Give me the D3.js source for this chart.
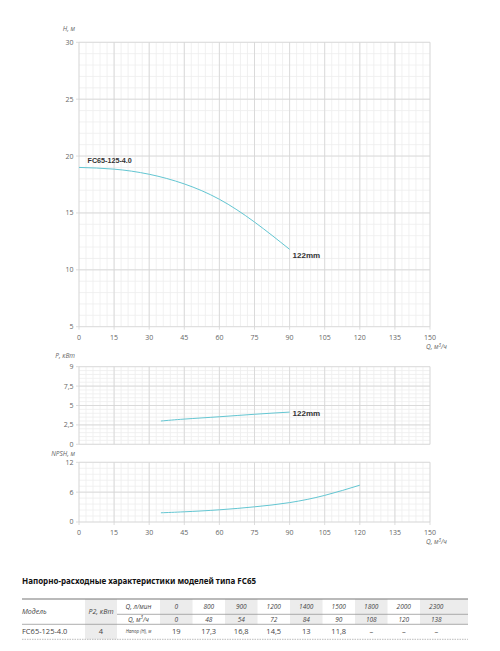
<!DOCTYPE html>
<html>
<head>
<meta charset="utf-8">
<script src="https://cdn.jsdelivr.net/npm/d3@7"></script>
<style>
  body { margin: 0; background: #fff; }
  svg { display: block; font-family: "Open Sans", "Noto Sans", sans-serif; }
</style>
</head>
<body>
<svg id="chart"></svg>
<script>
const width = 500, height = 651;

// --- data ---
const xTicks = [0, 15, 30, 45, 60, 75, 90, 105, 120, 135, 150];

// H(Q) curve, 122mm
const headQ = [0, 15, 30, 45, 60, 75, 90];
const headH = [19, 18.85, 18.4, 17.55, 16.2, 14.2, 11.8];
const headTicks = [5, 10, 15, 20, 25, 30];

// P(Q) curve
const powerQ = [35, 45, 60, 75, 90];
const powerP = [3.0, 3.25, 3.55, 3.87, 4.15];
const powerTicks = [0, 2.5, 5, 7.5, 10];
const powerTickLabels = ["0", "2,5", "5", "7,5", "9"];

// NPSH(Q) curve
const npshQ = [35, 45, 60, 75, 90, 105, 120];
const npshV = [1.85, 2.05, 2.45, 3.05, 3.9, 5.35, 7.4];
const npshTicks = [0, 6, 12];

// table
const tableFlowLmin = ["0", "800", "900", "1200", "1400", "1500", "1800", "2000", "2300"];
const tableFlowM3h = ["0", "48", "54", "72", "84", "90", "108", "120", "138"];
const tableHead = ["19", "17,3", "16,8", "14,5", "13", "11,8", "–", "–", "–"];
const tableModel = "FC65-125-4.0";
const tablePower = "4";

const curveColor = "#63c6d2";
const textColor = "#666";

const svg = d3.select("#chart").attr("width", width).attr("height", height);

const x = d3.scaleLinear().domain([0, 150]).range([79, 430]);

function fmt(v) { return String(v).replace(".", ","); }

// draws grid, ticks and tick labels for one panel
function drawPanel(y, ticks, minorStep, tickLabels, showX) {
  const g = svg.append("g");
  const [y0, y1] = y.range();
  const [d0, d1] = y.domain();

  // minor grid
  g.selectAll(".mx").data(d3.range(0, 150.01, 3)).join("line")
    .attr("x1", d => x(d)).attr("x2", d => x(d))
    .attr("y1", y0).attr("y2", y1)
    .attr("stroke", "#ededed").attr("stroke-width", 0.8);
  g.selectAll(".my").data(d3.range(d0, d1 + 0.001, minorStep)).join("line")
    .attr("x1", x(0)).attr("x2", x(150))
    .attr("y1", d => y(d)).attr("y2", d => y(d))
    .attr("stroke", "#ededed").attr("stroke-width", 0.8);

  // major grid
  g.selectAll(".gx").data(xTicks).join("line")
    .attr("x1", d => x(d)).attr("x2", d => x(d))
    .attr("y1", y0).attr("y2", y1)
    .attr("stroke", "#d4d4d4").attr("stroke-width", 0.8);
  g.selectAll(".gy").data(ticks).join("line")
    .attr("x1", x(0) - 3).attr("x2", x(150))
    .attr("y1", d => y(d)).attr("y2", d => y(d))
    .attr("stroke", "#d4d4d4").attr("stroke-width", 0.8);

  g.selectAll(".ty").data(ticks).join("text")
    .attr("x", 73.5).attr("y", d => y(d))
    .attr("dy", "0.35em")
    .attr("text-anchor", "end")
    .attr("font-size", 7).attr("fill", textColor)
    .text((d, i) => tickLabels ? tickLabels[i] : fmt(d));

  if (showX) {
    g.selectAll(".tickx").data(xTicks).join("line")
      .attr("x1", d => x(d)).attr("x2", d => x(d))
      .attr("y1", y0).attr("y2", y0 + 3)
      .attr("stroke", "#d4d4d4").attr("stroke-width", 0.8);
    g.selectAll(".tx").data(xTicks).join("text")
      .attr("x", d => x(d)).attr("y", y0 + 10.5)
      .attr("dy", "0.35em")
      .attr("text-anchor", "middle")
      .attr("font-size", 7).attr("fill", textColor)
      .text(d => d);
  }
  return g;
}

function axisTitle(xPos, yPos, txt, anchor) {
  svg.append("text")
    .attr("x", xPos).attr("y", yPos).attr("dy", "0.35em")
    .attr("text-anchor", anchor)
    .attr("font-size", 6.5).attr("font-style", "italic")
    .attr("fill", textColor)
    .text(txt);
}

function qTitle(yPos) {
  const t = svg.append("text")
    .attr("x", 426).attr("y", yPos).attr("dy", "0.35em")
    .attr("font-size", 6.5).attr("font-style", "italic")
    .attr("fill", textColor);
  t.append("tspan").text("Q, м");
  t.append("tspan").attr("font-size", 4.5).attr("dy", "-2.5").text("3");
  t.append("tspan").attr("dy", "2.5").text("/ч");
}

// 1. head chart
const yH = d3.scaleLinear().domain([5, 30]).range([326.7, 42.3]);
drawPanel(yH, headTicks, 1, null, true);
axisTitle(75, 28.5, "H, м", "end");
qTitle(347);

const line = d3.line().curve(d3.curveNatural);

svg.append("path")
  .attr("d", line(headQ.map((q, i) => [x(q), yH(headH[i])])))
  .attr("fill", "none").attr("stroke", curveColor).attr("stroke-width", 1);

svg.append("text")
  .attr("x", 87.5).attr("y", 160.5).attr("dy", "0.35em")
  .attr("font-family", "Liberation Sans, Arial, sans-serif")
  .attr("font-size", 7.2).attr("font-weight", "bold").attr("fill", "#333")
  .text(tableModel);

svg.append("text")
  .attr("x", x(90) + 3).attr("y", yH(11.8) + 6).attr("dy", "0.35em")
  .attr("font-family", "Liberation Sans, Arial, sans-serif")
  .attr("font-size", 8).attr("font-weight", "bold").attr("fill", "#333")
  .text("122mm");

// 2. power chart
const yP = d3.scaleLinear().domain([0, 10]).range([444.3, 366.7]);
drawPanel(yP, powerTicks, 0.5, powerTickLabels, false);
axisTitle(75, 355.7, "P, кВт", "end");

svg.append("path")
  .attr("d", line(powerQ.map((q, i) => [x(q), yP(powerP[i])])))
  .attr("fill", "none").attr("stroke", curveColor).attr("stroke-width", 1);

svg.append("text")
  .attr("x", x(90) + 3).attr("y", yP(powerP[powerP.length - 1]) + 1.5).attr("dy", "0.35em")
  .attr("font-family", "Liberation Sans, Arial, sans-serif")
  .attr("font-size", 8).attr("font-weight", "bold").attr("fill", "#333")
  .text("122mm");

// 3. NPSH chart
const yN = d3.scaleLinear().domain([0, 12]).range([522, 462.3]);
drawPanel(yN, npshTicks, 1.2, null, true);
axisTitle(75, 453.3, "NPSH, м", "end");
qTitle(542);

svg.append("path")
  .attr("d", line(npshQ.map((q, i) => [x(q), yN(npshV[i])])))
  .attr("fill", "none").attr("stroke", curveColor).attr("stroke-width", 1);

// 4. table
svg.append("text")
  .attr("x", 22).attr("y", 581).attr("dy", "0.35em")
  .attr("font-family", "Noto Sans, sans-serif")
  .attr("font-size", 8).attr("font-weight", "bold").attr("fill", "#111")
  .text("Напорно-расходные характеристики моделей типа FC65");

const tLeft = 22, tRight = 468;
const rowTop = 599, row1 = 614.3, row2 = 624.3, rowBot = 639.3;
const colP2 = [85, 117], colQ = [117, 160];
const cols = d3.scaleBand().domain(d3.range(tableFlowLmin.length)).range([160, 452.5]);

const tg = svg.append("g");

// shaded column backgrounds
tg.append("rect")
  .attr("x", colP2[0]).attr("y", rowTop).attr("width", colP2[1] - colP2[0]).attr("height", rowBot - rowTop)
  .attr("fill", "#ececec");
tg.selectAll(".shade").data(d3.range(0, tableFlowLmin.length, 2)).join("rect")
  .attr("x", d => cols(d))
  .attr("y", rowTop)
  .attr("width", d => d === tableFlowLmin.length - 1 ? tRight - cols(d) : cols.bandwidth())
  .attr("height", row2 - rowTop)
  .attr("fill", "#ececec");

// rules
tg.append("line").attr("x1", tLeft).attr("x2", tRight).attr("y1", rowTop).attr("y2", rowTop)
  .attr("stroke", "#777").attr("stroke-width", 1.2);
tg.append("line").attr("x1", colQ[0]).attr("x2", tRight).attr("y1", row1).attr("y2", row1)
  .attr("stroke", "#999").attr("stroke-width", 0.8);
tg.append("line").attr("x1", tLeft).attr("x2", tRight).attr("y1", row2).attr("y2", row2)
  .attr("stroke", "#999").attr("stroke-width", 0.8);
tg.append("line").attr("x1", tLeft).attr("x2", tRight).attr("y1", rowBot).attr("y2", rowBot)
  .attr("stroke", "#aaa").attr("stroke-width", 0.8).attr("stroke-dasharray", "1.5,1");

function cell(xPos, yPos, txt, opts = {}) {
  return tg.append("text")
    .attr("x", xPos).attr("y", yPos).attr("dy", "0.35em")
    .attr("text-anchor", opts.anchor || "middle")
    .attr("font-size", opts.size || 7)
    .attr("font-style", opts.italic ? "italic" : "normal")
    .attr("fill", opts.color || "#444")
    .text(txt);
}

const midHead = (rowTop + row2) / 2;
const mid1 = (rowTop + row1) / 2, mid2 = (row1 + row2) / 2, mid3 = (row2 + rowBot) / 2;

cell(tLeft, midHead, "Модель", { anchor: "start", italic: true });
cell((colP2[0] + colP2[1]) / 2, midHead, "P2, кВт", { italic: true });
cell((colQ[0] + colQ[1]) / 2, mid1, "Q, л/мин", { italic: true, size: 6.5 });
const qm = cell((colQ[0] + colQ[1]) / 2, mid2, "Q, м", { italic: true, size: 6.5 });
qm.append("tspan").attr("font-size", 4.5).attr("dy", "-2.3").text("3");
qm.append("tspan").attr("dy", "2.3").text("/ч");
cell((colQ[0] + colQ[1]) / 2, mid3, "Напор (H), м", { italic: true, size: 4.5 });

cell(tLeft, mid3, tableModel, { anchor: "start", size: 7.5 });
cell((colP2[0] + colP2[1]) / 2, mid3, tablePower, { size: 7.5 });

tableFlowLmin.forEach((v, i) => {
  const cx = cols(i) + cols.bandwidth() / 2;
  cell(cx, mid1, v, { italic: true, size: 6.5 });
  cell(cx, mid2, tableFlowM3h[i], { italic: true, size: 6.5 });
  cell(cx, mid3, tableHead[i], { size: 7.5 });
});
</script>
</body>
</html>
